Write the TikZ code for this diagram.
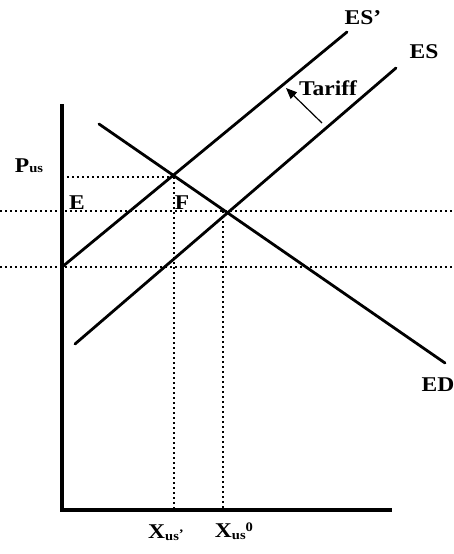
\documentclass[tikz,border=0pt]{standalone}
\usepackage{fontspec}
\setmainfont{Liberation Serif}
\newfontfamily\lblfont[FakeStretch=1.12]{Liberation Serif}
\usetikzlibrary{arrows.meta}
\tikzset{
  curve/.style={line width=2.8pt, line cap=round},
  axisline/.style={line width=3.2pt},
  dotline/.style={line width=2pt, dash pattern=on 2pt off 3pt},
  lbl/.style={inner sep=0pt, font=\lblfont\bfseries\fontsize{21}{21}\selectfont},
  tarrow/.style={line width=1.2pt, -{Triangle[length=11pt,width=9pt]}}
}
\newcommand{\sbs}[1]{{\fontsize{13}{13}\selectfont #1}}
\begin{document}
\begin{tikzpicture}[x=1pt,y=-1pt]
\useasboundingbox (0,0) rectangle (454,554);
% key points
\coordinate (ytop) at (62,104);
\coordinate (orig) at (62,510);
\coordinate (xend) at (392,510);
\coordinate (esp1) at (62,267);
\coordinate (esp2) at (347,32);
\coordinate (es1) at (75,344);
\coordinate (es2) at (396,68);
\coordinate (ed1) at (99,124);
\coordinate (ed2) at (445,363);
\coordinate (A) at (174,177);
\coordinate (B) at (223,211);
\coordinate (A0) at (62,177);
\coordinate (Ax) at (174,510);
\coordinate (Bx) at (223,510);
\coordinate (h1l) at (0,211);
\coordinate (h1r) at (454,211);
\coordinate (h2l) at (0,267);
\coordinate (h2r) at (454,267);
\coordinate (tt) at (322,123);
\coordinate (th) at (286,88);
% dotted guides
\draw[dotline] (h1l) -- (h1r);
\draw[dotline] (h2l) -- (h2r);
\draw[dotline] (A0) -- (A);
\draw[dotline] (A) -- (Ax);
\draw[dotline] (B) -- (Bx);
% axes
\draw[axisline] (ytop) -- (orig) -- (xend);
% curves
\draw[curve] (esp1) -- (esp2);
\draw[curve] (es1) -- (es2);
\draw[curve] (ed1) -- (ed2);
\draw[tarrow] (tt) -- (th);
% labels
\node[lbl] (lesp) at (363,18) {ES’};
\node[lbl] (les) at (424,52) {ES};
\node[lbl] (ltar) at (328,88) {Tariff};
\node[lbl] (led) at (438,385) {ED};
\node[lbl] (lp) at (29,166) {P\sbs{us}};
\node[lbl] (le) at (77,203) {E};
\node[lbl] (lf) at (182,203) {F};
\node[lbl] (lx1) at (166,533) {X\raisebox{-2pt}{\sbs{us}}\sbs{’}};
\node[lbl] (lx0) at (234,531) {X\raisebox{-2pt}{\sbs{us}}\raisebox{6pt}{\sbs{0}}};
\end{tikzpicture}
\end{document}
